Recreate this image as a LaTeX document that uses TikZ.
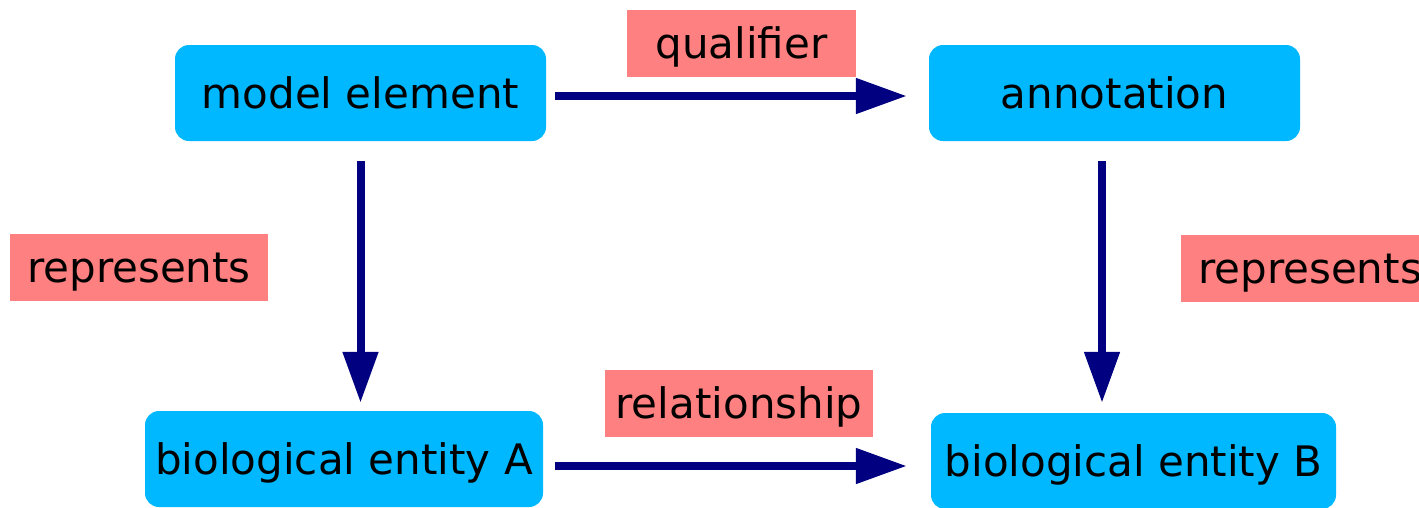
\documentclass[tikz,border=0pt]{standalone}
\usepackage{fontspec}
\setmainfont{DejaVu Sans}
\usetikzlibrary{arrows.meta}
\definecolor{boxblue}{RGB}{0,184,255}
\definecolor{tagred}{RGB}{255,128,128}
\definecolor{arrownavy}{RGB}{0,0,128}
\tikzset{
  entity/.style={fill=boxblue, rounded corners=14pt, inner sep=0pt,
    minimum height=96pt, text height=33pt, text depth=2.5pt},
  tag/.style={fill=tagred, inner sep=0pt, minimum height=67pt,
    text height=33pt, text depth=2.5pt},
  link/.style={draw=arrownavy, line width=8pt,
    -{Triangle[length=51pt,width=34pt]}},
}
\begin{document}
\begin{tikzpicture}[x=1pt,y=-1pt,font=\fontsize{42}{50}\selectfont]
\useasboundingbox (0,0) rectangle (1419,507);
\clip (0,0) rectangle (1419,507);
% entities
\node[entity, minimum width=371pt] (model) at (360.5,93) {model element};
\node[entity, minimum width=371pt] (annot) at (1114.5,93) {annotation};
\node[entity, minimum width=398pt] (bioA) at (344,459) {biological entity A};
\node[entity, minimum width=405pt] (bioB) at (1133.5,461) {biological entity B};
% relation labels
\node[tag, minimum width=229pt] (qual) at (741.5,43) {qualifier};
\node[tag, minimum width=258pt] (repL) at (139,267.5) {represents};
\node[tag, minimum width=258pt] (repR) at (1310,268) {represents};
\node[tag, minimum width=268pt] (rel) at (739,403.5) {relationship};
% connectors
\draw[link, shorten <=9pt, shorten >=22pt]
  ([yshift=-3pt]model.east) -- ([yshift=-3pt]model.east -| annot.west);
\draw[link, shorten <=12pt, shorten >=24pt]
  ([yshift=-7pt]bioA.east) -- ([yshift=-7pt]bioA.east -| bioB.west);
\draw[link, shorten <=20pt, shorten >=8pt]
  (model.south) -- (model.south |- bioA.north);
\draw[link, shorten <=20pt, shorten >=10pt]
  ([xshift=-12.5pt]annot.south) -- ([xshift=-12.5pt]annot.south |- bioB.north);
\end{tikzpicture}
\end{document}
